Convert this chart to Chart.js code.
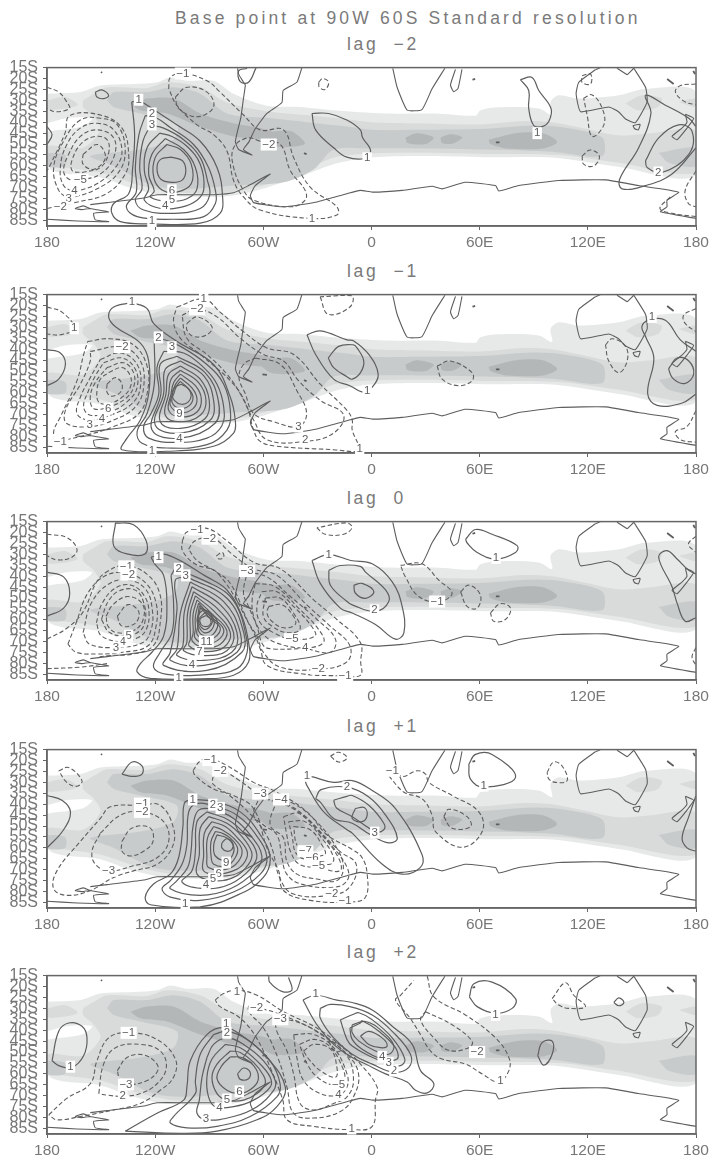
<!DOCTYPE html>
<html>
<head>
<meta charset="utf-8">
<title>Base point at 90W 60S</title>
<script src="https://cdn.jsdelivr.net/npm/chart.js@4"></script>
<style>
  html, body { margin: 0; padding: 0; background: #fff; }
  body { position: relative; width: 712px; height: 1162px; overflow: hidden; }
  canvas { position: absolute; left: 0; }
  .heading { position: absolute; white-space: pre; color: #7a7a7a; font-family: "Liberation Sans", sans-serif; font-size: 17.5px; line-height: 18px; }
</style>
</head>
<body>
<script>
const mainTitle = "Base point at 90W 60S Standard resolution";
const panelTitles = ["lag  \u22122", "lag  \u22121", "lag  0", "lag  +1", "lag  +2"];
const panelTops = [65, 292, 519, 747, 973];

const lonTicks = [-180, -120, -60, 0, 60, 120, 180];
const lonLabels = ["180", "120W", "60W", "0", "60E", "120E", "180"];
const latTicks = [15, 20, 25, 30, 35, 40, 45, 50, 55, 60, 65, 70, 75, 80, 85];
const latLabels = ["15S", "20S", "25S", "30S", "35S", "40S", "45S", "50S", "55S", "60S", "65S", "70S", "75S", "80S", "85S"];

// all curves are flat lists: lon, lat (deg south), lon, lat ...
const coast = [
  [-74.3,15.3,-73.7,18,-71,21.7,-70,23,-71,29,-72.5,38,-74.3,44,-75.5,49,-73.7,52.5,-66.3,55,-71,52.5,-68,49,-64.5,43,-58,36,-49.7,31,-49,25.5,-41.4,21.7,-38.6,15],
  [-180,84.4,-163.4,85.2,-145.8,85.5,-153.2,84.7,-154.1,81.7,-145.8,81,-156,79.5,-159.7,78.3,-164.3,79.5,-161,80,-156,79.5],
  [-156,77.7,-146.7,76.8,-126.4,74.7,-119,73.2,-100.5,73.2,-87.6,73.2,-76.5,72.3,-68.2,69,-56.2,63.7,-64.5,69,-67.2,73.5,-65.4,76.8,-48.8,78.7,-30.3,76.5,-13.6,72.7,-6.2,71.2,0.4,72,17,71.2,33.6,69.3,39.2,70.5,52,67.5,68.8,69,70.6,71.5,81.7,69,103.9,66.7,129.8,66.4,148,69,170.4,72,163.9,75.7,163.9,78.7,160.3,81,180,84],
  [124.2,16,115,21.7,113.5,27,116,35.2,131.6,33,137,35.2,140.9,38.5,146.4,40.2,152.9,30.7,152,24,145.5,15.3],
  [141.8,18.3,136.2,15.3],
  [124.2,16,127,15],
  [141.8,18.3,145.5,15.3],
  [145,41.5,149,41,148,43.5,146,43,145,41.5],
  [11.8,15.3,14.2,24,19.8,34.5,28,34.2,33.6,24.7,40.7,15.3],
  [46.6,15.8,43.8,23,45.6,26,48,24.5,50.2,15.8],
  [174.1,36.3,178.7,38.2,175,42.7,169.5,48,166.7,46.5,172.5,42.5,175,40,174.1,36.3]
];
// little islands, short strokes
const islands = [
  [69,49.2,71,49.2],
  [56,20.5,57.5,20.2],
  [164,20.2,167.6,22.5],
  [178.5,16.5,179.5,18],
  [-60.5,51.5,-58,51.7],
  [-37.5,54.2,-36,54.6],
  [-150,17,-149.5,17.4]
];

const shadeLight = [-180,27,-161.5,26.2,-150.4,23.2,-132,22.5,-119,21.7,-111.6,19.5,-102.4,21,-87.6,21,-76.5,27,-58,32.5,-40,33,-21,34.5,7.8,36,35.5,36,57.7,37,60.4,34.5,70.6,33.2,92.8,33.7,100.2,36.7,99.3,30.7,103.9,27.7,115,29.2,137.2,27.7,152,24.7,180,26.2,180,64.2,137.2,60.5,100.2,56.2,63.2,56,26.2,55.5,0,56.2,-21,59.2,-43.2,66,-76.5,73.5,-113.5,73.5,-132,70.5,-150.4,65.2,-180,60];
const shadeGap = [-180,40.5,-169,38.2,-155,38.2,-160.6,42,-176,43.8,-180,44];
const shadeMid = [
  [-160,30,-154,27,-146.7,24,-124.5,24.3,-113.5,21.7,-95,24,-80.2,31,-58,35,-40,36.5,-21,38,0,40,26.2,40.5,59.5,41,82,39.5,100,40,118.7,43,137,46,155.6,45,180,44,180,63,137,58.5,103.9,55,63.2,54.5,26.2,54,0,54.3,-21,56.2,-43.2,64.5,-76.5,72,-109.8,72,-128.2,69,-150.4,63,-180,58.5,-180,51,-160,51.7,-150.4,43.5,-154,37.5,-160,33],
  [140.9,31.5,150,27.7,161,29.2,159,33,148,34.5],
  [170.4,30.7,180,29.2,180,33],
  [-180,30,-170,28.5,-163,32,-172,34,-180,34]
];
const shadeDark = [
  [-146.7,30,-143,26.2,-124.5,26.2,-109.8,24,-95,27,-80.2,36,-58,38,-36,40,-13.6,42,0,43.5,26.2,43.5,63.2,43,89,41.5,107.6,42.5,128,47,128,55.5,100.2,53.5,63.2,52.5,26.2,52,0,52,-21,52.5,-32,61.5,-48.8,67.5,-76.5,69,-102.4,70.5,-120.9,69,-143,60,-156,55.5,-128.2,52.5,-109.8,48,-108,40.5,-128.2,36,-143,33],
  [-180,54,-170,55,-170,60,-180,60],
  [159.3,54,180,51.7,180,60,164.9,58.5]
];
const shadeDarkest = [
  [-133.8,31.5,-124.5,29.2,-109.8,29.2,-95,36,-76.5,40.5,-58,43.5,-47,48,-58,48,-76.5,46.5,-95,42,-113.5,36,-128.2,34.5],
  [-64,45.5,-45,44,-37,50,-55,51],
  [18.8,47,25,45,34.5,47,30,50,20,49.5],
  [38.3,47,44,45.5,50.3,47,45,49.8,39,49.5],
  [65,48,80,45,95,45,103,49,95,52,75,52,66,50]
];

const lagM2Solid = [
  [-133,30.7,-131.4,45.7,-132.5,61,-134.7,72.7,-143,77.2,-144,81.7,-139.3,85.5,-122.7,86.5,-95,86.2,-84,81.7,-82.6,74.2,-85.7,60.7,-95,48.7,-108,41.2,-119,35.2,-124.5,32.2,-129,30.3],
  [-125.5,37,-129,45.7,-131,60.7,-130.5,72,-136,78.7,-130,83.2,-110,84.4,-93,83.2,-86.6,77.2,-86.6,71.2,-90.4,60.7,-98.7,50.2,-111.6,42.4,-119,38.2],
  [-122.7,41.5,-126.8,48.7,-128.6,60.7,-127.3,70.5,-131,75.7,-126.4,80.2,-109.8,81.7,-95,79.5,-89.8,73.5,-91,66.7,-95,56.2,-104.2,48,-115.3,42.7],
  [-117.5,45,-124.5,51.7,-126,62.2,-123.6,70.5,-126,75.7,-117,79.5,-106,79,-96.8,75.7,-93,70.5,-95,59.2,-102.4,51,-110.7,46.5],
  [-114.4,47.5,-121.8,54.7,-123.6,64,-120.5,71.5,-122.7,74.2,-112.5,76.2,-102.4,75,-96.8,70.5,-97.7,60.7,-104.2,52.5],
  [-113.5,50.2,-120,56.2,-120.8,65.2,-116.2,71,-108,72,-100,68.2,-100,59.2,-106,52.5],
  [-111,56,-105,57.5,-103,62,-105,66.5,-111,67.5,-117,66,-119,61,-117,57],
  [-153.2,26.2,-149.6,25.2,-145.8,27.7,-148.6,29.2,-152.3,28.5],
  [-180,42,-177.2,45.7,-180,50.2],
  [-64,15,-68.2,21.7,-72.8,21.4,-73.7,16.5,-69,15.4],
  [-33,36,-23.8,36,-13.7,39,-6.2,43.5,-5,47,-0.5,53,-3.3,56.5,-13.7,56,-21,51.7,-31,43.5],
  [82.6,20.5,89,19.5,92.8,25.5,99.6,33.7,98.3,39.7,94.6,42,90,41.5,87.2,33.7,87.2,25.5],
  [180,42,176,38.2,163,32.2,152,27.7,155,36,148.2,51.7,137.7,66,139,70.5,152,69,166.7,63.7,180,51.7],
  [152,57.7,159.3,47.2,170.4,41.2,177.8,44.2,176,54.7,161.2,63,152.9,60.7]
];
const lagM2Dashed = [
  [-160,54.7,-152,50.2,-147.6,56.2,-154,61.5,-160,59.2],
  [-160.6,63,-150.4,60.7,-145.8,54,-146.7,48,-153,46.5,-160.6,49.5,-166,57,-166,62.2],
  [-161.5,66.7,-150.4,63.7,-143,56.2,-143,47.2,-152.3,43.5,-161.5,46.5,-168,54.7,-170.8,62.2,-168,66],
  [-164.8,72,-152.3,68.2,-142,60.7,-138.4,53.2,-143,43.5,-152.3,40.5,-161.5,42.7,-169,50.2,-172.6,60.7,-170.8,69],
  [-168,75,-154,71.2,-141,63.7,-136.6,53.2,-141,41.2,-150.4,38.2,-161.5,39,-170.8,48.7,-176.3,60.7,-173.5,71.2],
  [-180,79.5,-163,76.5,-147,72.7,-136.6,63.7,-134.7,54.7,-138.4,42.7,-150.4,36.7,-167.4,37,-170,45,-178,59.2,-180,62.2],
  [-180,24,-173.5,26.2,-169,30.7,-167.6,33.7,-175.4,35.2,-180,33.7],
  [-112.5,24.7,-111.6,19.5,-104.6,17.7,-91.3,21,-84,26.2,-71,36.7,-61.7,43.5,-48.8,43.5,-43.2,56.2,-34,69.7,-19.2,78.7,-19.2,82.5,-34,84,-61.7,80.2,-71,74.2,-76.5,66.7,-80.2,53.2,-87.6,45.7,-96.8,41.2,-108,32.2],
  [-108.8,28.5,-102.4,24,-91.3,26.2,-87.6,33,-96.8,37.5,-107,33.7],
  [-61.7,48.7,-50.6,50.2,-45,62.2,-36.8,71.2,-36.8,75.7,-45,78.7,-65.4,75.7,-71,71.2,-76.5,60.7,-76.5,51.7,-69,47.2],
  [-29.3,21.7,-27,20,-23.8,21.7,-25.7,25,-28.9,24],
  [116.8,18.7,121.5,18,121.5,22.5,116.8,21.7],
  [117.7,29,122.4,27.5,128,33.7,128.9,41.2,122.4,46.5,119.6,36.7],
  [116.8,55.5,121.5,52.7,126.4,55.5,123.3,60,117.7,59.2],
  [180,22.5,171.4,23.2,168.6,26.2,174,30.7,180,32],
  [180,62.2,174,71.2,175.8,77.2,180,78.7],
  [180,83.2,166.7,81.7,160,79.5,166,74]
];
const lagM2Labels = [[-129.2,29.7,"1"],[-121.8,36,"2"],[-121.8,41,"3"],[-110.7,71.2,"6"],[-110.7,75.3,"5"],[-114.4,78.3,"4"],[-121.8,85.2,"1"],[-161.5,66.3,"\u22125"],[-164.8,71.2,"4"],[-168,75,"3"],[-172.6,78.7,"\u22122"],[-104.6,17.7,"\u22121"],[-57,50.2,"\u22122"],[-33,84,"1"],[-2.4,56.5,"1"],[91.9,45,"1"],[159,63,"2"]];

const lagM1Solid = [
  [-132.9,18.7,-124.5,21.4,-120.9,28.2,-108,36.4,-87.6,47,-78.3,62,-75.6,72.4,-76.5,78.4,-87.6,84.4,-113.5,86.7,-138.4,86,-135.6,80.7,-128.2,72.4,-123.6,60.4,-123.6,45.4,-128.2,37.2,-142,29.7,-145.8,25.2,-143,20.7],
  [-120.5,36.4,-120.5,56,-124.5,69.4,-130,77.7,-127.3,83,-113.5,85.2,-91.3,83.7,-80.2,77,-78.3,68,-82,56,-91.3,47,-106,38.7,-117.2,35.2],
  [-115.3,41,-119,48.4,-118,60.4,-122.3,69.4,-126.4,75.4,-123.6,80.7,-108,82.6,-91.3,80.7,-83,75,-82,66.4,-85.7,56,-93,48.4,-104.2,41.7],
  [-108,43.2,-92.3,50.7,-85,63.4,-86.8,73.9,-106,80.7,-121.8,76.9,-116.8,60.4,-117.2,46.9],
  [-106,45.4,-93,52.2,-87.6,63.4,-89.4,72.4,-106,78.4,-120,74.7,-115.3,60.4,-114.4,49.2],
  [-106,47.7,-95,53.7,-90,63.4,-92.3,71.7,-106,76.2,-117.2,73.2,-114,60.4,-112.5,51.4],
  [-106,49.6,-96,55.2,-91.8,63.4,-95,70.2,-106,73.2,-114.4,70.2,-112.5,60.4,-111.2,53.7],
  [-106,51.4,-97.7,56.7,-94.4,62.7,-96.8,68.7,-106,71,-112.5,68,-111.2,60.4,-109.7,55.2],
  [-106,53.2,-99.6,57.7,-96.8,62.7,-99,67.2,-106,69,-111.6,65.7,-110.4,60.4,-108.8,56.2],
  [-106,54.7,-100.9,58.7,-99,62,-100.9,65.7,-106,67.2,-110.7,64.2,-109.4,59.7,-108,56.7],
  [-105.5,56,-101.4,58.2,-100,61.2,-101.7,64.2,-105.5,65.2,-109.4,63.4,-110.7,60.4,-109,57.4],
  [-180,40.2,-172.6,41.7,-169.8,47,-173.5,53.7,-180,56.7],
  [-35.8,33.4,-28.4,31.6,-13.6,35.7,-9.8,36.2,-1.5,42.4,3.7,51.4,0.4,57.4,-4.3,59.7,-12,56.7,-21,53.7,-31,42.4],
  [-24,44,-18.3,38.7,-10,38,-8,39.4,-4.3,45.4,-6.1,50.7,-10.7,53.7,-13.6,52.6,-21,48.4],
  [180,60.5,172.3,64.6,158.4,65.7,153.2,60.4,156.6,44,152,34.2,150,29.7,153.8,26.7,163,26.7,171.3,35.7,180,41],
  [165.8,47.7,169.5,44,176,45.4,178.7,51.4,174,55.6,167.6,53.7,164.9,49.2]
];
const lagM1Dashed = [
  [-157.4,36.4,-145,35.2,-132,38,-124.5,47.7,-124.2,59,-129,69.4,-143,75.4,-157.8,79.2,-174.5,81.4,-176.3,77.7,-172.6,71,-163.4,54.5,-159.7,42.5],
  [-156,41,-138.4,39,-128.2,45.4,-126.4,57.4,-131,66.4,-143,72.4,-156.3,75.4,-169,74,-169.8,68,-161.5,56,-156,45.4],
  [-150.4,44.7,-139.3,41.7,-130,47,-128.2,57.4,-133,65,-144.9,70.2,-157,72.4,-163.4,69.4,-161.5,62,-156,53],
  [-148.6,46.2,-138.4,44,-131,49.2,-130,57.4,-134.7,63.4,-144.9,68.7,-156,70.2,-159.7,66.4,-157,59,-153.2,52.2],
  [-146.7,48.4,-137.5,46.2,-132,50.7,-132,57.4,-136.6,62.7,-145.8,66.4,-154,67.2,-156,62,-153.2,55.2],
  [-145.8,50.7,-138.4,48.4,-133.8,52.2,-133.8,57.4,-138.4,62,-145.8,65,-151.3,64.2,-152.3,59,-150.4,53.7],
  [-146.7,56,-142,53,-138.4,56,-139.3,59.7,-144,61.5,-146.7,59.7],
  [-180,20.7,-171.7,23,-164.9,30.4,-172.6,33.4,-180,33],
  [-108,20.7,-93,17,-84,23,-71,32,-58,39.4,-43.2,42.4,-28.4,56,-13.6,68,-10.7,72.4,-10.7,77,-7,84.4,-7,86.7,-21,86,-52.5,84.4,-61.7,82.2,-65.4,77,-69,66.4,-76.5,56,-95,42.4,-106,35,-109.8,27.4],
  [-105.1,24.4,-96.8,21.7,-85.7,25.2,-72.8,35,-59.9,42.4,-48.8,45.4,-40.5,54.4,-28.4,63.4,-15.5,70,-21,78.4,-36.8,82.2,-58,81.4,-65.4,72.4,-72.8,60.4,-80.2,51.4,-91.3,42.4,-102.4,35],
  [-102.4,28.2,-96.8,25.2,-88.5,29.7,-91.3,33.4,-98.7,34.2,-102.4,31.2],
  [-64.5,44,-50.6,47,-41.4,59,-36,69.4,-40.5,75.4,-54.3,73.2,-65.4,69.4,-70,60.4,-73.5,53,-71,47],
  [-28.5,16,-24,24,-12,20.7,-11,15.5],
  [36.4,47.7,43.7,45.4,55.8,50.7,55.8,54.4,48.4,56.7,39.2,53.7],
  [129.8,38,133.5,35.2,140.9,38.7,141.8,45.4,137.2,50.7,131.6,45.4],
  [180,21.4,173.2,24.4,174,28.2,180,32],
  [180,68,175,75.4,168.6,77.7,171.4,81.4,180,82.6]
];
const lagM1Labels = [[-132.9,18.4,"1"],[-118.2,34.6,"2"],[-110.7,39.1,"3"],[-106.6,69.4,"9"],[-106.6,81,"4"],[-121.8,86.4,"1"],[-93.1,17,"1"],[-96.8,21.7,"\u22122"],[-138.4,39,"\u22122"],[-146,67.2,"6"],[-149.5,71.7,"4"],[-156.3,74.4,"3"],[-172.6,82.5,"\u22121"],[-164.9,30.4,"1"],[-40.5,75.4,"3"],[-36.8,81.4,"2"],[-2.4,59,"1"],[-6.6,85.6,"1"],[155.6,25.2,"1"]];

const lag0Solid = [
  [-122.3,31.3,-120,34.6,-115.3,39.6,-113.5,52.3,-115.3,67.3,-121.8,74.8,-128.2,80,-130,83.8,-122.7,86.8,-95,87,-76.5,85.3,-68.2,79.3,-68.2,70.3,-71.9,58.3,-80.2,46.3,-91.3,40.3,-113.5,30.1],
  [-111.2,39.6,-109.8,52.3,-110.7,65.8,-117.2,74.8,-120.9,81.6,-113.5,84.9,-91.3,85,-74.6,82.3,-69,74.8,-70,65.8,-73.7,55.3,-80.2,47.8,-91.3,42.6,-102.4,38.5,-108,36.1],
  [-102.4,40.3,-80.2,50.1,-70.9,65.8,-71.9,74.8,-91.3,83.1,-115.3,80.8,-111.6,74.8,-107.9,55.3,-108.8,41.8],
  [-100.5,42.6,-82,51.6,-72.8,65.8,-74.6,74.8,-93,80.8,-111.6,78.5,-107.9,73.3,-106,56.8],
  [-99.6,44.8,-83.8,53.1,-74.6,65.8,-77.5,74.8,-93,78.5,-107.9,76.3,-104.6,71.8,-103.9,56.8],
  [-98.7,47.1,-85.7,54.6,-76.5,65.8,-80.2,74.1,-93,76.3,-104.2,74.1,-102.4,70.3,-102,56.8],
  [-97.7,49,-87.2,56.1,-78.3,65.8,-82,72.6,-93,74.5,-101.3,71.8,-100.5,68.8,-100.5,56.8],
  [-96.8,50.8,-88.5,57.2,-80.2,65,-83.9,71.1,-93,72.6,-99.5,69.6,-98.9,65.8,-99,57.6],
  [-95.9,52.3,-89.4,58.3,-82,64.3,-85.7,69.6,-92.7,70.8,-98,68.1,-97.7,64.3,-97.7,58.3],
  [-95.5,53.5,-89.8,59.1,-83.9,63.6,-87.2,68.1,-92.7,68.8,-96.8,66.6,-96.4,62.8,-96.4,59.1],
  [-95,54.6,-89.4,56.8,-85.3,61.3,-87.9,66.6,-92.7,67.3,-95.9,65.1,-96.2,59.8,-95.5,56.8],
  [-93,55.3,-89,57.6,-87.2,61.3,-89.4,65.1,-93,65.8,-95.5,63.6,-96.8,60.1,-95.5,57],
  [-92.2,56.5,-89,58.6,-88.3,61,-90.3,63.6,-93,64.3,-95.5,62.1,-95.9,59.8],
  [-91.8,58,-89.4,59.5,-89.4,62,-91.8,63.1,-94.6,62.1,-95,59.5],
  [-142,15.6,-132,16.4,-125,23.8,-125.6,29.8,-135.7,29.8,-143,26.1],
  [-180,38.1,-170.8,40.3,-167.4,47.8,-170.8,54.6,-180,58.3],
  [-33,32.8,-23.7,30.1,-11.5,32.8,0.4,34.3,11.5,42.6,17,53.8,18,65.8,13.3,68.8,2.2,62.1,-10.7,56.8,-17.3,54.6,-28.4,43.3],
  [-23.7,37.3,-17.3,35.1,-6.2,35.5,-3.3,38.1,7.8,46.3,9.6,51.6,2.2,56.1,-10.7,53.1,-13.6,51.6,-22.8,44.1],
  [-9.8,44.1,-5.2,43.3,1.3,47.1,-3.3,50.1,-8.9,47.8],
  [52.2,23.1,57.7,18.6,66.9,20.8,80.8,26,79.9,29.1,68.8,32.1,58.6,29.1,53.1,24.8],
  [180,39,176,37.3,169.5,32.1,163.9,28.3,159.3,31.3,166.7,44.8,169.5,52.3,174,60.6,180,59]
];
const lag0Dashed = [
  [-180,68.8,-169,63.8,-160,56.3,-152.6,42.8,-147,38.1,-137,35.1,-125,38.8,-117.5,47.8,-117.2,61.3,-121,71.8,-132,75.6,-145,76.3,-152,77],
  [-168.4,71.1,-163.8,61.3,-157.4,47.8,-147.2,39.6,-135.2,38.8,-125,43.3,-119.5,52.3,-119.5,62.8,-124,71.8,-137.9,74.8,-152.7,75.6,-163.8,74.8],
  [-160,65.8,-155.4,52.3,-145.2,43.3,-134.1,41.8,-125,46.3,-121.6,55.3,-122.2,64.3,-126.8,70.3,-141.6,72.6,-156.3,71.1],
  [-152.6,61.3,-149.8,53.1,-142.4,45.6,-133.2,44.1,-125.8,49.3,-123.4,56.8,-124.9,64.3,-129.5,68.1,-138.8,70,-149.8,67.3],
  [-149.8,59.8,-146.1,51.6,-139.7,46.6,-130.5,46.6,-125.8,53.8,-125.8,61.3,-128.6,65.1,-135.1,67.3,-145.2,65.8],
  [-147.2,58.3,-143.5,53.1,-135.2,49.3,-127,52.8,-127,60.6,-132.4,65,-141.6,65.8,-146.2,62.8],
  [-141,58.3,-135.1,53,-129.5,55.6,-129.5,59.8,-133.4,62.6,-138.8,62.6],
  [-180,20.8,-169,22.3,-163.4,27.6,-166.2,31.3,-174.5,32.5,-180,30.6],
  [-180,82.3,-161.5,81.6,-146.7,80],
  [-104.9,23.8,-102.4,19.8,-91.3,18.1,-80.2,23.8,-65.4,33.6,-50.6,36.6,-32.1,50.8,-19.2,59.8,-6.2,70.3,-6,79.3,-6,85.3,-15.5,85.6,-39.5,84.6,-58,80.8,-61.7,73.3,-65.4,65.8,-85,38.8,-98,34.3,-104.9,28.3],
  [-101.5,27.6,-97.8,23.8,-88.5,22.3,-77.5,29.8,-65.4,36.6,-52.5,39.6,-35.9,53.1,-23,62.8,-12,71.8,-13.8,79.3,-29.5,82.6,-50.7,81.6,-60,74.8,-63.6,67.3,-68.2,61.3,-78.3,43.3,-87.5,37.3,-96.8,32.8],
  [-86,30.6,-82.8,29.1,-82,31.3,-84.7,32.1],
  [-69,38.1,-58,40.3,-45,49.3,-30.2,59.8,-20,68.8,-22.8,74.8,-36.7,73.3,-54.3,73.3,-59.9,71.8,-63.6,62.8,-68.2,53.8,-71,47.8],
  [-64.5,43.3,-53.4,44.8,-40.5,54.6,-29.4,64.3,-26.6,70.3,-37.6,72.8,-53.4,70.3,-60.8,65.8,-65.4,58.3,-66.2,50.8],
  [-60.8,47.1,-52.5,47.1,-43.3,53.8,-34,62.1,-31.3,67.3,-44.2,68.8,-54.4,65.8,-61.7,61.3,-63.6,53.8],
  [-58.9,50,-50.7,50,-43.3,56.8,-39.6,64.3,-47,65.8,-55.3,62.8,-60,58.3],
  [-57,53.8,-49.7,53.1,-43.3,58.3,-42.3,62.1,-48.8,63.6,-55.3,60.6,-58,56.8],
  [-30.3,17.8,-25.7,20.8,-15.5,20.8,-10.8,17.8,-13.6,15.6],
  [16.1,35,27.9,34.3,37.3,41.8,44.7,47.8,37.3,51.6,26.2,49.3,18.8,40.3],
  [49.4,47.1,54,44.1,60.4,48.6,58.6,54.6,53,53.8],
  [66,56.8,71.5,52.6,77.1,54.6,74.3,59.8,67.8,60.6],
  [180,21.6,175.8,25.3,180,29.1],
  [180,72.6,177.8,77,180,80.8]
];
const lag0Labels = [[-118,31.3,"1"],[-107,36.6,"2"],[-103,39.6,"3"],[-91.6,69.9,"11"],[-95.5,74.8,"7"],[-99.6,80.5,"4"],[-107,86.4,"1"],[-136,35.5,"\u22121"],[-134.8,39.3,"\u22122"],[-134.7,67.3,"5"],[-138,69.9,"4"],[-141.7,72.6,"3"],[-96.8,18.6,"\u22121"],[-89.8,22.8,"\u22122"],[-69,37.6,"\u22123"],[-44.1,68.8,"\u22125"],[-36.8,73,"4"],[-29.5,82.3,"\u22122"],[-14.6,85.6,"\u22121"],[-23.8,30.1,"1"],[1.7,55.6,"2"],[36.4,51.6,"\u22121"],[69.1,31.6,"1"]];

const lagP1Solid = [
  [-99.6,37.8,-87.6,38.7,-72.8,43.5,-61.7,54,-56.2,64.5,-60,73.5,-72.8,81,-95,87,-122.7,86,-125.5,82.5,-120.9,76.5,-111.6,72,-107,64.5,-104.6,50,-103.8,39.5],
  [-87.6,40.5,-96.8,39.7,-101.4,43.5,-102.4,58.5,-105.1,67.5,-111.6,75,-116.2,78.7,-111.6,82.5,-95,84,-76.5,80.2,-61.7,72,-58,64.5,-63.5,54.7,-74.6,45],
  [-87.6,42,-95.9,42.7,-99,50,-100.1,61.5,-102,69,-107.9,75,-111.6,78.7,-95,81.7,-78.3,78.7,-64.5,70.5,-60.8,63.7,-67.3,54,-76.5,46.5],
  [-91.3,43.5,-96.8,48,-97.7,61.5,-99.6,70.5,-105.1,75.7,-91.7,78.7,-78.3,76.5,-67.3,69.7,-63.6,63,-70,54,-79.3,47.2],
  [-90.3,45.7,-95,51,-95.5,63,-96.8,72,-87.6,75,-76.5,73.5,-68.2,67.5,-66.4,62.2,-71.9,54.7,-80.2,48.7],
  [-88.5,48,-92.7,53.2,-93.1,63.7,-93.1,70.5,-84.8,72,-74.6,69.7,-70,66,-69,61.5,-74.2,55.5,-81.1,50.2],
  [-87.6,50.2,-91,55.5,-91.3,63.7,-90.4,69,-80.2,69.7,-73.7,66,-71.9,60.7,-76.5,55.5,-83,51.7],
  [-86.6,52.5,-89,57,-89,63.7,-87.5,67.5,-80.2,68.2,-75.6,64.5,-74.3,60,-78.3,55.5,-83,53.2],
  [-85.7,54,-87.5,58.5,-86.6,63.7,-80.2,65.7,-76.9,63,-76.5,59.2,-80.2,55.5],
  [-83,57.7,-80.2,55.8,-77,57.7,-77.4,60.7,-80.2,61.5,-83,60],
  [-138.4,26.2,-132.8,20.7,-127.3,22.5,-127.3,26.2,-132.8,27.3],
  [-180,36,-171.7,38.2,-167,43.5,-170.8,51.7,-180,60],
  [-36.8,29.2,-35,27.3,-21,30,-10.7,29.2,0.4,33.7,13.3,42,28,63,27,69,17,72,6,67.5,-10.7,53.2,-13.6,51.7,-26.5,43.5,-35.8,31.5],
  [-31,37.5,-28,33.3,-13.6,32.2,-1.5,36.7,7.8,45,14.3,55.5,9.6,57.7,-0.5,54,-10.7,48.7,-21,46.5,-28.4,39],
  [-21,38.2,-13.6,36.4,-10.7,36,-1.5,40.5,6.8,48.7,6.8,51.7,2.2,52.5,-10.7,45.7,-19.4,41.7],
  [-9,42,-4,41.5,-2.4,45,-5.2,48,-10.7,46.5],
  [54,21.7,57.7,17.2,66.9,17.2,79.9,27.7,62.3,32.2,54.9,28.5],
  [180,36,176,45.7,172.3,55.5,175,60,180,61.5]
];
const lagP1Dashed = [
  [-128.2,40.5,-117.2,40.5,-109.8,51,-110.7,60,-119,67.5,-132,70.5,-143,73.5,-156,79.5,-169,81.7,-176.3,78.7,-174.5,70.5,-161.5,57,-150.4,46.5,-144.9,41.2],
  [-150.4,53.2,-139.3,45,-127.3,43.5,-115.3,48,-112.5,57,-119,64.5,-132,68.2,-145.8,70.5,-153.2,67.5,-155,61.5],
  [-138.4,57,-133,51,-123,50.7,-121.2,57,-126.4,61.5,-133.8,63.7,-138.4,61.5],
  [-173.5,24.7,-168,23.2,-160.6,29.2,-163.4,31.8,-169,30],
  [-99,24.7,-95,20.2,-89.4,19.2,-78.3,23.2,-65.4,30,-52.5,34.5,-35.8,43.5,-24.7,54,-10.7,60.7,-5.2,64.5,-2.4,72,-3.3,82.5,-10.7,84.7,-34,84,-48.8,79.5,-51.5,70.5,-58,60,-65.4,42,-76.5,36,-87.6,33,-97.7,27],
  [-88,27.7,-83.3,24.7,-73.2,29.2,-60.3,36.7,-43.6,42,-28.8,52.5,-17.7,61.5,-8.5,67.5,-12.2,78,-23.2,81.7,-43.6,81,-51,73.5,-54.7,61.5,-58.4,54,-66.7,45,-78.7,36,-88,30.7],
  [-62.6,37.5,-50.3,39,-37.5,45,-22.6,58.5,-13.5,69,-13.5,75,-21,78,-39.3,76.5,-47,72,-49.7,64.5,-52.5,54,-59.9,49.5,-65.4,45],
  [-52.5,38.2,-43.3,39.7,-30.4,48,-19.3,60,-15.6,69,-19.3,75,-30.4,74.2,-41.4,72,-47,66,-48.8,55.5,-56.2,49.5],
  [-48.8,45.7,-40,44.2,-29.3,52.5,-18.3,64.5,-17.5,70.5,-29.3,69,-40,67.5,-45,61.5,-47,54],
  [-46,48,-36.8,48,-27.6,55.5,-21,64.5,-23,67.5,-33,66,-41.4,63,-44.2,54],
  [-43.2,50.2,-34,51.7,-27.6,58.5,-25.8,63,-35.8,63,-41.4,58.5],
  [-22.8,18,-18.2,16.2,-13.6,18.7,-18.2,20.7],
  [9.6,27,18,34.5,28,37.5,33.6,45,35.5,52.5,50.3,59.7,61.4,52.5,59.5,43.5,44.7,36,31.8,30,30,26.2,25.3,24.7,17,27.3,12.4,24],
  [40.1,45.7,42.9,42.3,53,45.7,55,50.2,44.7,51],
  [97.4,25.5,101,20.7,105.7,22.5,108.5,29.2,102,30,98.4,28.5]
];
const lagP1Labels = [[-99.2,37.8,"1"],[-88,40.2,"2"],[-83.9,41.7,"3"],[-80.6,66.7,"9"],[-84.8,72,"6"],[-88,74.2,"5"],[-91.8,77,"4"],[-103.3,85.8,"1"],[-127.3,39.7,"\u22121"],[-127.3,43.5,"\u22122"],[-145.8,70.5,"\u22123"],[-89.4,19.8,"\u22121"],[-83.9,24.7,"\u22122"],[-61.7,35.2,"\u22123"],[-50.2,37.8,"\u22124"],[-36.7,61.5,"\u22127"],[-33,64.5,"\u22126"],[-29.3,68.2,"\u22125"],[-22,81,"\u22122"],[-14.6,84.3,"\u22121"],[-35.8,27,"1"],[-13.6,32.2,"2"],[1.8,53,"3"],[11.5,24.7,"\u22121"],[62.3,31.5,"1"]];

const lagP2Solid = [
  [-136.6,86.2,-119,78,-104.2,72,-102.4,66,-100.5,54,-91.3,42,-82,38.7,-72.8,42,-58,52.5,-47.8,66,-52.5,75,-63.5,81,-85.7,86.2,-106,87.2],
  [-87.6,42,-95,51,-97.7,63,-97.7,69,-109.8,79.5,-111.6,82.5,-102.4,84.7,-85.7,84,-67.3,79.5,-52.5,70.5,-50.7,64.5,-56.2,54,-69,44.2,-80.2,40.5],
  [-91.3,52.5,-94,61.5,-95.5,72,-96.8,78,-91.7,81,-76.5,79.5,-63.5,75,-54.3,67.5,-53.4,63,-59.9,54,-71,46.5,-80.2,43.5,-87.6,46.5],
  [-81.1,46.5,-88.5,53.2,-91.3,61.5,-90.4,70.5,-86.6,75,-76.5,75,-65.4,72,-56.2,66,-56.2,61.5,-62.7,54.7,-72.8,48],
  [-78.3,49.5,-85.7,55.5,-88.5,61.5,-85.7,69,-80.2,72,-71,72,-63.5,69,-59,64.5,-59.9,60.7,-65.4,54.7,-72.8,50.2],
  [-78.3,52.2,-83,56.2,-85.7,62.2,-80.2,67.5,-72.8,69,-65.4,66,-62.7,61.5,-65.4,56.2,-71.9,52.5],
  [-74.3,60,-71,57.3,-67.3,59.2,-68.2,62.2,-72.8,62.5],
  [-177.2,54,-173.5,40.5,-168,36.7,-160.6,38.2,-157.8,43.5,-159.7,51.7,-166.1,57,-173.5,56.2],
  [-57,15.3,-56.5,18,-49.8,22.2,-44.2,21.7,-46,15.8],
  [-38,26.2,-31.2,24,-19.2,26.2,-10.7,27.3,0.4,30.7,11.5,38.2,22.6,46.5,27.2,58.5,34.6,64.5,30.9,68.7,24.4,67.5,19.8,63.7,7.8,60,-3.3,55.5,-10.7,52.5,-21,46.5,-30.3,37.5],
  [-28.4,30,-22.8,28.2,-12,29.2,0.4,33,11.5,40.5,21.6,51,20.7,57,12.4,59.2,0.4,55.5,-10.7,51,-21,43.5,-28.4,34.5],
  [-17.3,35.2,-10,32.7,-7,32,0.4,35.2,11.5,43.5,18.5,53.2,16,56.2,9.2,55.2,-1.5,51.7,-10.7,47.2,-13.6,44.2],
  [-12,39,-6.2,36.7,-5.2,35.7,4.1,40.5,13.3,48,14.2,53.2,5.9,53.2,-5.2,48.7,-10.7,44.2],
  [-10.7,37.5,-3.3,36,5.9,40.5,12.4,47.2,9.6,51,2.2,49.5,-7,45,-10.7,41.2],
  [-6.1,42.7,-1.5,40.5,5.9,43.5,8.7,47.2,5,48,-1.5,46.5],
  [54.3,24.7,56.8,18.7,66.9,18,79.9,25.5,78,30,68.8,32.2,58.6,29.2],
  [92.2,51.7,94.6,45.7,100.2,45,100.2,51,95.6,56],
  [134.4,27.3,137.2,25.2,140,27.3,137.2,28.8]
];
const lagP2Dashed = [
  [-179,78.7,-169,71.2,-156,64.5,-152.3,54,-145.8,43.5,-134.7,41.2,-119,44.2,-108.8,53.2,-109.8,61.5,-117.2,67.5,-128.2,73.5,-143,76.5,-161.5,79.5,-174.5,81],
  [-151.3,69,-148.6,55.5,-142,48,-128.2,46.5,-117.2,49.5,-113.8,57,-119,64.5,-128.2,69,-138,70.2,-146.8,69.7],
  [-141,58.5,-135.6,52.5,-126.4,51.3,-119,55.5,-119,59.2,-124.5,63,-133.8,64.8,-139.3,63],
  [-86.7,26.2,-82,23.2,-74.6,21.7,-63.5,24,-48.8,31.5,-30.3,39,-13.6,49.5,-6.1,55.5,3.1,66,2.2,72,0.4,84,-10.7,85.5,-32.1,84,-46.9,81,-49.2,72,-56.2,57,-63.8,43.5,-72.8,34.5,-84,29.2],
  [-68.2,28.8,-52.5,32.2,-30.3,40.5,-13.6,51,-7.2,60,-10,70.5,-17.3,77.2,-32.1,80.2,-43.2,78,-46.9,66,-52,52.5,-59.9,39,-68.2,31.5],
  [-53.4,34.2,-39.6,36.7,-26.7,42.7,-13.6,51.7,-10,63,-13.6,70.5,-21,73.5,-32.1,76.5,-39.6,73.5,-43.2,60,-46.9,49.5,-52.5,40.5],
  [-43.2,42,-32,42,-21,48,-13.6,60,-13.6,66,-18.2,69.7,-28.4,69,-37.7,63,-41.4,52.5],
  [-40,46.5,-31.8,44.2,-23.5,47.2,-16.1,57,-15.2,63,-20.8,65.2,-30,61.5,-35.6,55.5],
  [-37.7,49.5,-32,46.5,-22.7,48.7,-19.2,57,-20,61.5,-28.4,58.5,-34.8,53.2],
  [-24,45,-17.3,46.5,-15.5,48.7,-20,49.5],
  [30.9,15.3,34.6,24.7,52.1,33,68.8,43.5,76.2,52.5,76.2,58.5,70.6,63.7,61.4,60,52.1,55.5,39.2,53.2,32.7,49.5,27.2,42,20.7,33.7,13.3,26.2,16.1,24,23.5,17.2],
  [30,31.5,44.7,37.5,55.8,45,54,48,42.9,49.2,34.6,43.5,27.2,35.2],
  [100.2,25.5,107.6,18.3,112.2,24,118.7,29.2,109.4,30,103.9,28.5]
];
const lagP2Labels = [[-80.6,37.2,"1"],[-80.2,41.2,"2"],[-73.3,68,"6"],[-80.2,71.7,"5"],[-84.4,75.7,"4"],[-91.8,80.7,"3"],[-167,56.7,"1"],[-134.7,41.2,"\u22121"],[-136.2,64.8,"\u22123"],[-138,70.2,"2"],[-74.6,22.2,"1"],[-63.8,29.7,"\u22122"],[-50.6,35,"\u22123"],[-18.3,64.8,"\u22125"],[-18.3,69.7,"4"],[-11,85,"1"],[-31,23.5,"1"],[12.4,58.5,"2"],[9.6,55,"3"],[5.9,52.2,"4"],[58.6,50,"\u22122"],[71.5,63,"1"],[68.8,33,"1"]];

const panelSolid = [lagM2Solid, lagM1Solid, lag0Solid, lagP1Solid, lagP2Solid];
const panelDashed = [lagM2Dashed, lagM1Dashed, lag0Dashed, lagP1Dashed, lagP2Dashed];
const panelLabels = [lagM2Labels, lagM1Labels, lag0Labels, lagP1Labels, lagP2Labels];

const lineColor = "#5e5e5e";
const axisColor = "#666666";
const labelColor = "#777777";
const shadeColors = ["#e7e9e9", "#d9dbdb", "#c8cbcb", "#b4b7b8"];

function toPoints(flat, close) {
  const pts = [];
  for (let i = 0; i < flat.length; i += 2) pts.push({ x: flat[i], y: flat[i + 1] });
  if (close) pts.push({ x: flat[0], y: flat[1] });
  return pts;
}

// curves that run into the frame stay open, the rest are rings
function isOpen(flat) {
  const n = flat.length;
  return Math.abs(flat[0]) >= 180 || Math.abs(flat[n - 2]) >= 180 || flat[1] <= 15.3 || flat[n - 1] <= 15.3;
}

function contourSet(list, dash) {
  return list.map((flat) => ({
    data: toPoints(flat, !isOpen(flat)),
    showLine: true,
    borderColor: lineColor,
    borderWidth: dash ? 1.1 : 1.2,
    borderDash: dash ? [4.5, 2.5] : [],
    pointRadius: 0,
    tension: 0.4,
    fill: false,
  }));
}

function shadeSet(list, color) {
  return list.map((flat) => ({
    data: toPoints(flat, true),
    showLine: true,
    borderWidth: 0,
    borderColor: color,
    backgroundColor: color,
    pointRadius: 0,
    tension: 0.3,
    fill: "shape",
  }));
}

function coastSet(list, width) {
  return list.map((flat) => ({
    data: toPoints(flat, false),
    showLine: true,
    borderColor: lineColor,
    borderWidth: width,
    pointRadius: 0,
    tension: 0.15,
    fill: false,
  }));
}

const framePlugin = {
  id: "frameAndLabels",
  afterDatasetsDraw(chart, args, opts) {
    const { ctx, chartArea, scales } = chart;
    ctx.save();
    ctx.strokeStyle = axisColor;
    ctx.lineWidth = 1.5;
    ctx.strokeRect(chartArea.left, chartArea.top, chartArea.right - chartArea.left, chartArea.bottom - chartArea.top);
    ctx.font = '11.5px "Liberation Sans", sans-serif';
    ctx.textAlign = "center";
    ctx.textBaseline = "middle";
    opts.labels.forEach(([lon, lat, text]) => {
      const x = scales.x.getPixelForValue(lon);
      const y = scales.y.getPixelForValue(lat);
      const w = ctx.measureText(text).width + 3;
      ctx.fillStyle = "#ffffff";
      ctx.fillRect(x - w / 2, y - 6, w, 12);
      ctx.fillStyle = "#5e5e5e";
      ctx.fillText(text, x, y);
    });
    ctx.restore();
  },
};

function buildPanel(i) {
  const title = document.createElement("div");
  title.className = "heading";
  title.style.left = "347px";
  title.style.letterSpacing = "2.7px";
  title.style.top = panelTops[i] - 30 + "px";
  title.textContent = panelTitles[i];
  document.body.appendChild(title);

  const canvas = document.createElement("canvas");
  canvas.width = 712;
  canvas.height = 205;
  canvas.style.top = panelTops[i] - 12 + "px";
  document.body.appendChild(canvas);

  // first dataset is drawn last, so shading goes at the end, lightest last
  const datasets = [
    ...contourSet(panelSolid[i], false),
    ...contourSet(panelDashed[i], true),
    ...coastSet(coast, 1.1),
    ...coastSet(islands, 1.8),
    ...shadeSet(shadeDarkest, shadeColors[3]),
    ...shadeSet(shadeDark, shadeColors[2]),
    ...shadeSet(shadeMid, shadeColors[1]),
    ...shadeSet([shadeGap], "#ffffff"),
    ...shadeSet([shadeLight], shadeColors[0]),
  ];

  return new Chart(canvas, {
    type: "scatter",
    data: { datasets },
    plugins: [framePlugin],
    options: {
      responsive: false,
      animation: false,
      layout: { padding: { top: 12, right: 16, left: 0, bottom: 0 } },
      plugins: {
        legend: { display: false },
        tooltip: { enabled: false },
        frameAndLabels: { labels: panelLabels[i] },
      },
      scales: {
        x: {
          type: "linear",
          min: -180,
          max: 180,
          afterBuildTicks: (scale) => { scale.ticks = lonTicks.map((value) => ({ value })); },
          afterFit: (scale) => { scale.height = 32; },
          grid: { drawOnChartArea: false, tickLength: 4, color: axisColor },
          border: { color: axisColor, width: 1.5 },
          ticks: {
            autoSkip: false,
            maxRotation: 0,
            padding: 3,
            color: labelColor,
            font: { family: "Liberation Sans", size: 15.5 },
            callback: (value) => lonLabels[lonTicks.indexOf(value)],
          },
        },
        y: {
          type: "linear",
          reverse: true,
          min: 15,
          max: 87.5,
          afterBuildTicks: (scale) => { scale.ticks = latTicks.map((value) => ({ value })); },
          afterFit: (scale) => { scale.width = 47; },
          grid: { drawOnChartArea: false, tickLength: 4, color: axisColor },
          border: { color: axisColor, width: 1.5 },
          ticks: {
            autoSkip: false,
            padding: 5,
            color: labelColor,
            font: { family: "Liberation Sans", size: 16 },
            callback: (value) => latLabels[latTicks.indexOf(value)],
          },
        },
      },
    },
  });
}

const heading = document.createElement("div");
heading.className = "heading";
heading.style.left = "175px";
heading.style.top = "9px";
heading.style.letterSpacing = "3.17px";
heading.textContent = mainTitle;
document.body.appendChild(heading);

panelTops.forEach((top, i) => buildPanel(i));
</script>
</body>
</html>
